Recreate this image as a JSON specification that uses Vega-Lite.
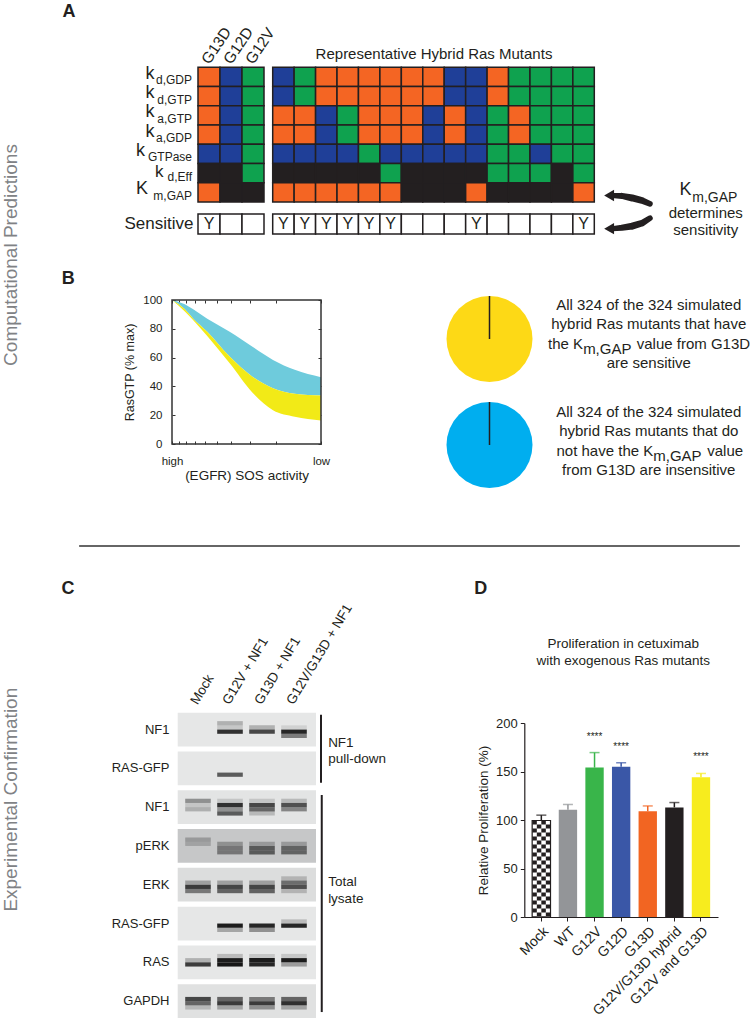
{
"$schema":"https://vega.github.io/schema/vega-lite/v6.json",
"width":750,"height":1020,"padding":0,"background":"white",
"autosize":{"type":"none","contains":"padding"},
"config":{"font":"Liberation Sans","view":{"stroke":null},"axis":{"disable":true,"grid":false},"text":{"color":"#231f20"}},
"datasets":{
"one":[{"figure":"annotation"}],
"cells":[
{"m":"G13D","p":"kdGDP","s":"O"},{"m":"G13D","p":"kdGTP","s":"O"},{"m":"G13D","p":"kaGTP","s":"O"},{"m":"G13D","p":"kaGDP","s":"O"},{"m":"G13D","p":"kGTPase","s":"B"},{"m":"G13D","p":"kdEff","s":"K"},{"m":"G13D","p":"KmGAP","s":"O"},
{"m":"G12D","p":"kdGDP","s":"B"},{"m":"G12D","p":"kdGTP","s":"B"},{"m":"G12D","p":"kaGTP","s":"B"},{"m":"G12D","p":"kaGDP","s":"B"},{"m":"G12D","p":"kGTPase","s":"B"},{"m":"G12D","p":"kdEff","s":"K"},{"m":"G12D","p":"KmGAP","s":"K"},
{"m":"G12V","p":"kdGDP","s":"G"},{"m":"G12V","p":"kdGTP","s":"G"},{"m":"G12V","p":"kaGTP","s":"G"},{"m":"G12V","p":"kaGDP","s":"G"},{"m":"G12V","p":"kGTPase","s":"G"},{"m":"G12V","p":"kdEff","s":"G"},{"m":"G12V","p":"KmGAP","s":"K"}
],
"hybrids":[
{"m":"H1","p":"kdGDP","s":"B"},{"m":"H1","p":"kdGTP","s":"B"},{"m":"H1","p":"kaGTP","s":"O"},{"m":"H1","p":"kaGDP","s":"O"},{"m":"H1","p":"kGTPase","s":"B"},{"m":"H1","p":"kdEff","s":"K"},{"m":"H1","p":"KmGAP","s":"O"},
{"m":"H2","p":"kdGDP","s":"G"},{"m":"H2","p":"kdGTP","s":"G"},{"m":"H2","p":"kaGTP","s":"O"},{"m":"H2","p":"kaGDP","s":"O"},{"m":"H2","p":"kGTPase","s":"B"},{"m":"H2","p":"kdEff","s":"K"},{"m":"H2","p":"KmGAP","s":"O"},
{"m":"H3","p":"kdGDP","s":"O"},{"m":"H3","p":"kdGTP","s":"O"},{"m":"H3","p":"kaGTP","s":"B"},{"m":"H3","p":"kaGDP","s":"B"},{"m":"H3","p":"kGTPase","s":"B"},{"m":"H3","p":"kdEff","s":"K"},{"m":"H3","p":"KmGAP","s":"O"},
{"m":"H4","p":"kdGDP","s":"O"},{"m":"H4","p":"kdGTP","s":"O"},{"m":"H4","p":"kaGTP","s":"G"},{"m":"H4","p":"kaGDP","s":"G"},{"m":"H4","p":"kGTPase","s":"B"},{"m":"H4","p":"kdEff","s":"K"},{"m":"H4","p":"KmGAP","s":"O"},
{"m":"H5","p":"kdGDP","s":"O"},{"m":"H5","p":"kdGTP","s":"O"},{"m":"H5","p":"kaGTP","s":"O"},{"m":"H5","p":"kaGDP","s":"O"},{"m":"H5","p":"kGTPase","s":"G"},{"m":"H5","p":"kdEff","s":"K"},{"m":"H5","p":"KmGAP","s":"O"},
{"m":"H6","p":"kdGDP","s":"O"},{"m":"H6","p":"kdGTP","s":"O"},{"m":"H6","p":"kaGTP","s":"O"},{"m":"H6","p":"kaGDP","s":"O"},{"m":"H6","p":"kGTPase","s":"B"},{"m":"H6","p":"kdEff","s":"G"},{"m":"H6","p":"KmGAP","s":"O"},
{"m":"H7","p":"kdGDP","s":"O"},{"m":"H7","p":"kdGTP","s":"O"},{"m":"H7","p":"kaGTP","s":"O"},{"m":"H7","p":"kaGDP","s":"O"},{"m":"H7","p":"kGTPase","s":"B"},{"m":"H7","p":"kdEff","s":"K"},{"m":"H7","p":"KmGAP","s":"K"},
{"m":"H8","p":"kdGDP","s":"O"},{"m":"H8","p":"kdGTP","s":"O"},{"m":"H8","p":"kaGTP","s":"B"},{"m":"H8","p":"kaGDP","s":"B"},{"m":"H8","p":"kGTPase","s":"B"},{"m":"H8","p":"kdEff","s":"K"},{"m":"H8","p":"KmGAP","s":"K"},
{"m":"H9","p":"kdGDP","s":"B"},{"m":"H9","p":"kdGTP","s":"B"},{"m":"H9","p":"kaGTP","s":"O"},{"m":"H9","p":"kaGDP","s":"O"},{"m":"H9","p":"kGTPase","s":"B"},{"m":"H9","p":"kdEff","s":"K"},{"m":"H9","p":"KmGAP","s":"K"},
{"m":"H10","p":"kdGDP","s":"B"},{"m":"H10","p":"kdGTP","s":"B"},{"m":"H10","p":"kaGTP","s":"B"},{"m":"H10","p":"kaGDP","s":"B"},{"m":"H10","p":"kGTPase","s":"B"},{"m":"H10","p":"kdEff","s":"K"},{"m":"H10","p":"KmGAP","s":"O"},
{"m":"H11","p":"kdGDP","s":"O"},{"m":"H11","p":"kdGTP","s":"O"},{"m":"H11","p":"kaGTP","s":"G"},{"m":"H11","p":"kaGDP","s":"G"},{"m":"H11","p":"kGTPase","s":"G"},{"m":"H11","p":"kdEff","s":"G"},{"m":"H11","p":"KmGAP","s":"K"},
{"m":"H12","p":"kdGDP","s":"G"},{"m":"H12","p":"kdGTP","s":"G"},{"m":"H12","p":"kaGTP","s":"O"},{"m":"H12","p":"kaGDP","s":"O"},{"m":"H12","p":"kGTPase","s":"G"},{"m":"H12","p":"kdEff","s":"G"},{"m":"H12","p":"KmGAP","s":"K"},
{"m":"H13","p":"kdGDP","s":"G"},{"m":"H13","p":"kdGTP","s":"G"},{"m":"H13","p":"kaGTP","s":"G"},{"m":"H13","p":"kaGDP","s":"G"},{"m":"H13","p":"kGTPase","s":"B"},{"m":"H13","p":"kdEff","s":"G"},{"m":"H13","p":"KmGAP","s":"K"},
{"m":"H14","p":"kdGDP","s":"G"},{"m":"H14","p":"kdGTP","s":"G"},{"m":"H14","p":"kaGTP","s":"G"},{"m":"H14","p":"kaGDP","s":"G"},{"m":"H14","p":"kGTPase","s":"G"},{"m":"H14","p":"kdEff","s":"K"},{"m":"H14","p":"KmGAP","s":"K"},
{"m":"H15","p":"kdGDP","s":"G"},{"m":"H15","p":"kdGTP","s":"G"},{"m":"H15","p":"kaGTP","s":"G"},{"m":"H15","p":"kaGDP","s":"G"},{"m":"H15","p":"kGTPase","s":"G"},{"m":"H15","p":"kdEff","s":"G"},{"m":"H15","p":"KmGAP","s":"O"}
],
"params":[
{"p":"kdGDP","letter":"k","sub":"d,GDP","w":"a"},{"p":"kdGTP","letter":"k","sub":"d,GTP","w":"a"},{"p":"kaGTP","letter":"k","sub":"a,GTP","w":"a"},{"p":"kaGDP","letter":"k","sub":"a,GDP","w":"a"},{"p":"kGTPase","letter":"k","sub":"GTPase","w":"b"},{"p":"kdEff","letter":"k","sub":"d,Eff","w":"c"},{"p":"KmGAP","letter":"K","sub":"m,GAP","w":"b"}
],
"sens":[
{"m":"G13D","r":"Sensitive","y":"Y"},{"m":"G12D","r":"Sensitive","y":""},{"m":"G12V","r":"Sensitive","y":""}
],
"sensH":[
{"m":"H1","r":"Sensitive","y":"Y"},{"m":"H2","r":"Sensitive","y":"Y"},{"m":"H3","r":"Sensitive","y":"Y"},{"m":"H4","r":"Sensitive","y":"Y"},{"m":"H5","r":"Sensitive","y":"Y"},{"m":"H6","r":"Sensitive","y":"Y"},{"m":"H7","r":"Sensitive","y":""},{"m":"H8","r":"Sensitive","y":""},{"m":"H9","r":"Sensitive","y":""},{"m":"H10","r":"Sensitive","y":"Y"},{"m":"H11","r":"Sensitive","y":""},{"m":"H12","r":"Sensitive","y":""},{"m":"H13","r":"Sensitive","y":""},{"m":"H14","r":"Sensitive","y":""},{"m":"H15","r":"Sensitive","y":"Y"}
],
"arrows":[
{"a":"up","u":19,"v":13,"w":5,"o":1},{"a":"up","u":40,"v":14,"w":6,"o":2},{"a":"up","u":62,"v":19,"w":7,"o":3},{"a":"up","u":83,"v":25,"w":6.5,"o":4},{"a":"up","u":100,"v":33,"w":5.5,"o":5},
{"a":"down","u":19,"v":92,"w":5,"o":1},{"a":"down","u":40,"v":90,"w":6,"o":2},{"a":"down","u":62,"v":86,"w":7,"o":3},{"a":"down","u":83,"v":79,"w":6.5,"o":4},{"a":"down","u":100,"v":67,"w":5.5,"o":5}
],
"heads":[{"a":"up","u":13,"v":13},{"a":"down","u":13,"v":92}],
"curves":[
{"sos":10,"t":100,"m":100,"b":100},{"sos":8.2,"t":97,"m":93.5,"b":92},{"sos":7.2,"t":93.5,"m":87,"b":86},{"sos":5.8,"t":87,"m":78,"b":75},{"sos":4.1,"t":78,"m":60.7,"b":56},{"sos":2.9,"t":67.7,"m":46.9,"b":36},{"sos":2.1,"t":58.4,"m":38.8,"b":23.5},{"sos":1.5,"t":51.5,"m":34.9,"b":19},{"sos":1,"t":46.4,"m":33.7,"b":16.4}
],
"blots":[{"b":"NF1|a"},{"b":"RAS-GFP|a"},{"b":"NF1|b"},{"b":"pERK"},{"b":"ERK"},{"b":"RAS-GFP|b"},{"b":"RAS"},{"b":"GAPDH"}],
"bands":[
{"b":"NF1|a","l":"G12V + NF1","s":2,"v":0.25},{"b":"NF1|a","l":"G12V + NF1","s":3,"v":0.15},{"b":"NF1|a","l":"G12V + NF1","s":4,"v":0.85},
{"b":"NF1|a","l":"G13D + NF1","s":3,"v":0.25},{"b":"NF1|a","l":"G13D + NF1","s":4,"v":0.75},
{"b":"NF1|a","l":"G12V/G13D + NF1","s":3,"v":0.1},{"b":"NF1|a","l":"G12V/G13D + NF1","s":4,"v":0.9},{"b":"NF1|a","l":"G12V/G13D + NF1","s":5,"v":0.5},
{"b":"RAS-GFP|a","l":"G12V + NF1","s":5,"v":0.65},
{"b":"NF1|b","l":"Mock","s":2,"v":0.4},{"b":"NF1|b","l":"Mock","s":3,"v":0.15},{"b":"NF1|b","l":"Mock","s":4,"v":0.25},
{"b":"NF1|b","l":"G12V + NF1","s":2,"v":0.15},{"b":"NF1|b","l":"G12V + NF1","s":3,"v":0.85},{"b":"NF1|b","l":"G12V + NF1","s":4,"v":0.4},{"b":"NF1|b","l":"G12V + NF1","s":5,"v":0.65},
{"b":"NF1|b","l":"G13D + NF1","s":2,"v":0.15},{"b":"NF1|b","l":"G13D + NF1","s":3,"v":0.75},{"b":"NF1|b","l":"G13D + NF1","s":4,"v":0.6},{"b":"NF1|b","l":"G13D + NF1","s":5,"v":0.2},
{"b":"NF1|b","l":"G12V/G13D + NF1","s":2,"v":0.2},{"b":"NF1|b","l":"G12V/G13D + NF1","s":3,"v":0.7},{"b":"NF1|b","l":"G12V/G13D + NF1","s":4,"v":0.45},
{"b":"pERK","l":"Mock","s":2,"v":0.25},{"b":"pERK","l":"Mock","s":3,"v":0.2},
{"b":"pERK","l":"G12V + NF1","s":3,"v":0.3},{"b":"pERK","l":"G12V + NF1","s":4,"v":0.45},{"b":"pERK","l":"G12V + NF1","s":5,"v":0.45},
{"b":"pERK","l":"G13D + NF1","s":3,"v":0.25},{"b":"pERK","l":"G13D + NF1","s":4,"v":0.6},{"b":"pERK","l":"G13D + NF1","s":5,"v":0.6},
{"b":"pERK","l":"G12V/G13D + NF1","s":3,"v":0.25},{"b":"pERK","l":"G12V/G13D + NF1","s":4,"v":0.55},{"b":"pERK","l":"G12V/G13D + NF1","s":5,"v":0.55},
{"b":"ERK","l":"Mock","s":3,"v":0.3},{"b":"ERK","l":"Mock","s":4,"v":0.8},{"b":"ERK","l":"Mock","s":5,"v":0.5},
{"b":"ERK","l":"G12V + NF1","s":3,"v":0.3},{"b":"ERK","l":"G12V + NF1","s":4,"v":0.75},{"b":"ERK","l":"G12V + NF1","s":5,"v":0.6},
{"b":"ERK","l":"G13D + NF1","s":3,"v":0.3},{"b":"ERK","l":"G13D + NF1","s":4,"v":0.75},{"b":"ERK","l":"G13D + NF1","s":5,"v":0.6},
{"b":"ERK","l":"G12V/G13D + NF1","s":2,"v":0.2},{"b":"ERK","l":"G12V/G13D + NF1","s":3,"v":0.55},{"b":"ERK","l":"G12V/G13D + NF1","s":4,"v":0.7},{"b":"ERK","l":"G12V/G13D + NF1","s":5,"v":0.2},
{"b":"RAS-GFP|b","l":"G12V + NF1","s":4,"v":0.95},{"b":"RAS-GFP|b","l":"G12V + NF1","s":5,"v":0.3},
{"b":"RAS-GFP|b","l":"G13D + NF1","s":4,"v":0.9},{"b":"RAS-GFP|b","l":"G13D + NF1","s":5,"v":0.4},
{"b":"RAS-GFP|b","l":"G12V/G13D + NF1","s":3,"v":0.2},{"b":"RAS-GFP|b","l":"G12V/G13D + NF1","s":4,"v":0.9},
{"b":"RAS","l":"Mock","s":3,"v":0.25},{"b":"RAS","l":"Mock","s":4,"v":0.8},
{"b":"RAS","l":"G12V + NF1","s":2,"v":0.2},{"b":"RAS","l":"G12V + NF1","s":3,"v":0.95},{"b":"RAS","l":"G12V + NF1","s":4,"v":0.98},
{"b":"RAS","l":"G13D + NF1","s":2,"v":0.15},{"b":"RAS","l":"G13D + NF1","s":3,"v":0.95},{"b":"RAS","l":"G13D + NF1","s":4,"v":0.9},
{"b":"RAS","l":"G12V/G13D + NF1","s":2,"v":0.15},{"b":"RAS","l":"G12V/G13D + NF1","s":3,"v":0.95},{"b":"RAS","l":"G12V/G13D + NF1","s":4,"v":0.35},
{"b":"GAPDH","l":"Mock","s":3,"v":0.75},{"b":"GAPDH","l":"Mock","s":4,"v":0.6},{"b":"GAPDH","l":"Mock","s":5,"v":0.2},
{"b":"GAPDH","l":"G12V + NF1","s":3,"v":0.6},{"b":"GAPDH","l":"G12V + NF1","s":4,"v":0.8},{"b":"GAPDH","l":"G12V + NF1","s":5,"v":0.3},
{"b":"GAPDH","l":"G13D + NF1","s":3,"v":0.5},{"b":"GAPDH","l":"G13D + NF1","s":4,"v":0.8},{"b":"GAPDH","l":"G13D + NF1","s":5,"v":0.4},
{"b":"GAPDH","l":"G12V/G13D + NF1","s":3,"v":0.6},{"b":"GAPDH","l":"G12V/G13D + NF1","s":4,"v":0.85},{"b":"GAPDH","l":"G12V/G13D + NF1","s":5,"v":0.3}
],
"prolif":[
{"g":"Mock","v":99.5,"u":105,"sig":""},{"g":"WT","v":110.5,"u":116,"sig":""},{"g":"G12V","v":154,"u":169.5,"sig":"****"},{"g":"G12D","v":155,"u":159,"sig":"****"},{"g":"G13D","v":109,"u":114.5,"sig":""},{"g":"G12V/G13D hybrid","v":113,"u":118,"sig":""},{"g":"G12V and G13D","v":144,"u":148,"sig":"****"}
],
"cap1":[{"n":1,"t":"All 324 of the 324  simulated"},{"n":2,"t":"hybrid Ras mutants that have"},{"n":4,"t":"are sensitive"}],
"cap2":[{"n":1,"t":"All 324 of the 324 simulated"},{"n":2,"t":"hybrid Ras mutants that do"},{"n":4,"t":"from G13D are insensitive"}]
},
"resolve":{"scale":{"x":"independent","y":"independent","color":"independent","opacity":"independent","theta":"independent","size":"independent"},"axis":{"x":"independent","y":"independent"}},
"layer":[
{"data":{"name":"cells"},"mark":{"type":"rect","stroke":"#231f20","strokeWidth":1.5},
  "encoding":{"x":{"field":"m","type":"nominal","sort":null,"scale":{"type":"band","domain":["G13D","G12D","G12V"],"range":[198,264],"padding":0},"axis":{"disable":false,"orient":"top","offset":-64,"title":null,"labelAngle":-56,"labelAlign":"left","labelBaseline":"middle","labelFontSize":15.5,"labelColor":"#231f20","domain":false,"ticks":false,"labelPadding":2,"labelOffset":-4}},
  "y":{"field":"p","type":"nominal","scale":{"type":"band","domain":["kdGDP","kdGTP","kaGTP","kaGDP","kGTPase","kdEff","KmGAP"],"range":[67.3,202],"padding":0}},
  "color":{"field":"s","type":"nominal","legend":null,"scale":{"domain":["O","B","G","K"],"range":["#f46523","#1f3f98","#0fa24f","#231f20"]}}}},
{"data":{"name":"params"},"layer":[
 {"mark":{"type":"text","align":"right","dx":-17,"dy":3.5,"fontSize":12},
  "encoding":{"x":{"datum":"G13D","type":"nominal","scale":{"type":"band","domain":["G13D","G12D","G12V"],"range":[198,264],"padding":0}},"y":{"field":"p","type":"nominal","scale":{"type":"band","domain":["kdGDP","kdGTP","kaGTP","kaGDP","kGTPase","kdEff","KmGAP"],"range":[67.3,202],"padding":0}},"text":{"field":"sub"}}},
 {"transform":[{"filter":"datum.w=='a'"}],"mark":{"type":"text","align":"left","dx":-63.5,"dy":-3,"fontSize":18},
  "encoding":{"x":{"datum":"G13D","type":"nominal"},"y":{"field":"p","type":"nominal"},"text":{"field":"letter"}}},
 {"transform":[{"filter":"datum.w=='b'"}],"mark":{"type":"text","align":"left","dx":-73,"dy":-3,"fontSize":18},
  "encoding":{"x":{"datum":"G13D","type":"nominal"},"y":{"field":"p","type":"nominal"},"text":{"field":"letter"}}},
 {"transform":[{"filter":"datum.w=='c'"}],"mark":{"type":"text","align":"left","dx":-54,"dy":-1.5,"fontSize":17},
  "encoding":{"x":{"datum":"G13D","type":"nominal"},"y":{"field":"p","type":"nominal"},"text":{"field":"letter"}}}
]},
{"data":{"name":"hybrids"},"mark":{"type":"rect","stroke":"#231f20","strokeWidth":1.5},
 "encoding":{"x":{"field":"m","type":"nominal","sort":null,"scale":{"type":"band","domain":["H1","H2","H3","H4","H5","H6","H7","H8","H9","H10","H11","H12","H13","H14","H15"],"range":[272.7,594.3],"padding":0},"axis":{"disable":false,"orient":"top","offset":-64,"title":"Representative Hybrid Ras Mutants","titleFontSize":15,"titleFontWeight":"normal","titleColor":"#231f20","titlePadding":3,"labels":false,"ticks":false,"domain":false}},
 "y":{"field":"p","type":"nominal","scale":{"type":"band","domain":["kdGDP","kdGTP","kaGTP","kaGDP","kGTPase","kdEff","KmGAP"],"range":[67.3,202],"padding":0}},
 "color":{"field":"s","type":"nominal","legend":null,"scale":{"domain":["O","B","G","K"],"range":["#f46523","#1f3f98","#0fa24f","#231f20"]}}}},
{"data":{"name":"sens"},"mark":{"type":"rect","fill":"white","stroke":"#231f20","strokeWidth":1.5},
  "encoding":{"x":{"field":"m","type":"nominal","sort":null,"scale":{"type":"band","domain":["G13D","G12D","G12V"],"range":[198,264],"padding":0}},
  "y":{"field":"r","type":"nominal","scale":{"type":"band","domain":["Sensitive"],"range":[214,234],"padding":0},"axis":{"disable":false,"orient":"left","offset":-193,"title":null,"domain":false,"ticks":false,"labelFontSize":17,"labelColor":"#231f20","labelPadding":0}}}},
{"data":{"name":"sens"},"mark":{"type":"text","fontSize":16},"encoding":{"x":{"field":"m","type":"nominal","sort":null,"scale":{"type":"band","domain":["G13D","G12D","G12V"],"range":[198,264],"padding":0}},"y":{"field":"r","type":"nominal","scale":{"type":"band","domain":["Sensitive"],"range":[214,234],"padding":0}},"text":{"field":"y"}}},
{"data":{"name":"sensH"},"layer":[
 {"mark":{"type":"rect","fill":"white","stroke":"#231f20","strokeWidth":1.5},
  "encoding":{"x":{"field":"m","type":"nominal","sort":null,"scale":{"type":"band","domain":["H1","H2","H3","H4","H5","H6","H7","H8","H9","H10","H11","H12","H13","H14","H15"],"range":[272.7,594.3],"padding":0}},
  "y":{"field":"r","type":"nominal","scale":{"type":"band","domain":["Sensitive"],"range":[214,234],"padding":0}}}},
 {"mark":{"type":"text","fontSize":16},"encoding":{"x":{"field":"m","type":"nominal","sort":null},"y":{"field":"r","type":"nominal"},"text":{"field":"y"}}}
]},
{"layer":[
 {"data":{"name":"arrows"},"mark":{"type":"trail","color":"#231f20"},
  "encoding":{"x":{"field":"u","type":"quantitative","scale":{"domain":[0,100],"range":[603,650]}},"y":{"field":"v","type":"quantitative","scale":{"domain":[0,100],"range":[190,232]}},"detail":{"field":"a"},"order":{"field":"o"},"size":{"field":"w","type":"quantitative","scale":null}}},
 {"data":{"name":"heads"},"mark":{"type":"point","shape":"triangle-left","filled":true,"color":"#231f20","opacity":1,"size":130},
  "encoding":{"x":{"field":"u","type":"quantitative"},"y":{"field":"v","type":"quantitative"}}}
]},
{"data":{"name":"curves"},"mark":{"type":"area","color":"#6ecbdc","interpolate":"monotone"},
  "encoding":{"x":{"field":"sos","type":"quantitative","scale":{"type":"log","domain":[10,1],"range":[172,321]},
   "axis":{"disable":false,"orient":"bottom","offset":-576,"values":[1,2,3,4,5,6,7,8,9,10],"labelExpr":"datum.value==10?'high':datum.value==1?'low':''","title":"(EGFR) SOS activity","titleFontSize":13.5,"titleFontWeight":"normal","titleColor":"#231f20","titlePadding":2,"labelFontSize":11.5,"labelColor":"#231f20","tickSize":-3,"labelPadding":14,"tickColor":"#333","domain":false,"labelOverlap":false,"labelBound":false,"labelFlush":false}},
  "y":{"field":"t","type":"quantitative","scale":{"domain":[0,100],"range":[444,300]},
   "axis":{"disable":false,"orient":"left","offset":-172,"values":[0,20,40,60,80,100],"title":"RasGTP (% max)","titleFontSize":12.5,"titleFontWeight":"normal","titleColor":"#231f20","titlePadding":6,"labelFontSize":11.5,"labelColor":"#231f20","tickSize":-3,"labelPadding":13,"tickColor":"#333","domain":false}},
  "y2":{"field":"m"}}},
{"data":{"name":"curves"},"mark":{"type":"area","color":"#f2ea17","interpolate":"monotone"},
  "encoding":{"x":{"field":"sos","type":"quantitative","scale":{"type":"log","domain":[10,1],"range":[172,321]}},"y":{"field":"m","type":"quantitative","scale":{"domain":[0,100],"range":[444,300]}},"y2":{"field":"b"}}},
{"data":{"name":"one"},"mark":{"type":"rect","fillOpacity":0,"fill":"white","stroke":"#333","strokeWidth":1.5},
 "encoding":{"x":{"datum":10,"type":"quantitative","scale":{"type":"log","domain":[10,1],"range":[172,321]},"axis":{"disable":false,"orient":"top","offset":-300,"values":[1,2,3,4,5,6,7,8,9,10],"labels":false,"title":null,"tickSize":-3,"tickColor":"#333","domain":false}},"x2":{"datum":1},
 "y":{"datum":0,"type":"quantitative","scale":{"domain":[0,100],"range":[444,300]},"axis":{"disable":false,"orient":"right","offset":-429,"values":[0,20,40,60,80,100],"labels":false,"title":null,"tickSize":-3,"tickColor":"#333","domain":false}},"y2":{"datum":100}}},
{"data":{"values":[{"result":"sensitive","n":324}]},"layer":[
 {"mark":{"type":"arc","outerRadius":43,"innerRadius":0,"fill":"#fdd916"},
  "encoding":{"theta":{"field":"n","type":"quantitative"},"x":{"datum":0,"type":"quantitative","scale":{"domain":[-1,1],"range":[446.5,532.5]}},"y":{"datum":0,"type":"quantitative","scale":{"domain":[-1,1],"range":[382,296]}}}},
 {"mark":{"type":"rule","color":"#231f20","strokeWidth":1.5},"encoding":{"x":{"datum":0,"type":"quantitative"},"y":{"datum":0,"type":"quantitative"},"y2":{"datum":1}}}
]},
{"data":{"values":[{"result":"insensitive","n":324}]},"layer":[
 {"mark":{"type":"arc","outerRadius":43,"innerRadius":0,"fill":"#00aeef"},
  "encoding":{"theta":{"field":"n","type":"quantitative"},"x":{"datum":0,"type":"quantitative","scale":{"domain":[-1,1],"range":[446.5,532.5]}},"y":{"datum":0,"type":"quantitative","scale":{"domain":[-1,1],"range":[488,402]}}}},
 {"mark":{"type":"rule","color":"#231f20","strokeWidth":1.5},"encoding":{"x":{"datum":0,"type":"quantitative"},"y":{"datum":0,"type":"quantitative"},"y2":{"datum":1}}}
]},
{"data":{"name":"cap1"},"mark":{"type":"text","fontSize":15},"encoding":{"x":{"datum":86.5,"type":"quantitative","scale":{"domain":[0,100],"range":[0,750]}},"y":{"field":"n","type":"ordinal","scale":{"type":"point","domain":[1,2,3,4],"range":[305,363.3],"padding":0}},"text":{"field":"t"}}},
{"data":{"name":"cap2"},"mark":{"type":"text","fontSize":15},"encoding":{"x":{"datum":86.5,"type":"quantitative","scale":{"domain":[0,100],"range":[0,750]}},"y":{"field":"n","type":"ordinal","scale":{"type":"point","domain":[1,2,3,4],"range":[412,470],"padding":0}},"text":{"field":"t"}}},
{"data":{"name":"blots"},"mark":{"type":"rect"},
  "encoding":{"x":{"datum":0,"type":"quantitative","scale":{"domain":[0,1],"range":[177.7,316]}},"x2":{"datum":1},
  "y":{"field":"b","type":"nominal","sort":null,"scale":{"type":"band","domain":["NF1|a","RAS-GFP|a","NF1|b","pERK","ERK","RAS-GFP|b","RAS","GAPDH"],"range":[712.7,1018],"paddingInner":0.13,"paddingOuter":0},
   "axis":{"disable":false,"orient":"left","offset":-170,"title":null,"domain":false,"ticks":false,"labelPadding":1,"labelFontSize":13,"labelColor":"#231f20","labelExpr":"split(datum.label,'|')[0]"}},
  "color":{"field":"b","type":"nominal","legend":null,"scale":{"domain":["NF1|a","RAS-GFP|a","NF1|b","pERK","ERK","RAS-GFP|b","RAS","GAPDH"],"range":["#e6e7e7","#e6e7e7","#e3e4e4","#c6c7c8","#dcdddd","#e6e7e7","#e6e7e7","#e0e1e1"]}}}},
{"data":{"name":"bands"},"mark":{"type":"rect","color":"#111"},
 "encoding":{"x":{"field":"l","type":"nominal","sort":null,"scale":{"type":"band","domain":["Mock","G12V + NF1","G13D + NF1","G12V/G13D + NF1"],"range":[182,310],"paddingInner":0.2,"paddingOuter":0.1},"axis":{"disable":false,"orient":"top","offset":-703,"title":null,"domain":false,"ticks":false,"labelAngle":-59,"labelAlign":"left","labelBaseline":"middle","labelFontSize":13.5,"labelColor":"#231f20","labelPadding":0,"labelOffset":-4}},
 "y":{"field":"b","type":"nominal","sort":null,"scale":{"type":"band","domain":["NF1|a","RAS-GFP|a","NF1|b","pERK","ERK","RAS-GFP|b","RAS","GAPDH"],"range":[712.7,1018],"paddingInner":0.13,"paddingOuter":0}},
 "yOffset":{"field":"s","type":"ordinal","scale":{"domain":[0,1,2,3,4,5,6,7],"padding":0}},
 "opacity":{"field":"v","type":"quantitative","legend":null,"scale":{"domain":[0,1],"range":[0,1]}}}},
{"data":{"name":"prolif"},"mark":{"type":"bar"},"encoding":{"x":{"field":"g","type":"nominal","sort":null,"scale":{"type":"band","domain":["Mock","WT","G12V","G12D","G13D","G12V/G13D hybrid","G12V and G13D"],"range":[524.3,718],"paddingInner":0.31,"paddingOuter":0.295},"axis":{"disable":false,"orient":"bottom","offset":-103,"title":null,"labelAngle":-45,"labelFontSize":14,"labelColor":"#231f20","tickColor":"#231f20","domainColor":"#231f20","domainWidth":1.2,"tickSize":4,"labelPadding":3}},
  "y":{"field":"v","type":"quantitative","stack":null,"scale":{"domain":[0,200],"range":[917,723]},"axis":{"disable":false,"orient":"left","offset":-524.3,"values":[0,50,100,150,200],"title":"Relative Proliferation (%)","titleFontSize":13.5,"titleFontWeight":"normal","titleColor":"#231f20","titlePadding":5,"labelFontSize":13,"labelColor":"#231f20","tickColor":"#231f20","domainColor":"#231f20","domainWidth":1.2,"tickSize":4,"labelPadding":3}},
  "color":{"field":"g","type":"nominal","legend":null,"scale":{"domain":["Mock","WT","G12V","G12D","G13D","G12V/G13D hybrid","G12V and G13D"],"range":["#231f20","#939598","#39b54a","#3a57a7","#f26522","#231f20","#f7ec1e"]}}}},
{"data":{"name":"prolif"},"layer":[
 {"mark":{"type":"rule","strokeWidth":1.5},"encoding":{"x":{"field":"g","type":"nominal","sort":null,"scale":{"type":"band","domain":["Mock","WT","G12V","G12D","G13D","G12V/G13D hybrid","G12V and G13D"],"range":[524.3,718],"paddingInner":0.31,"paddingOuter":0.295}},"y":{"field":"v","type":"quantitative","stack":null,"scale":{"domain":[0,200],"range":[917,723]}},"y2":{"field":"u"},"color":{"field":"g","type":"nominal","legend":null,"scale":{"domain":["Mock","WT","G12V","G12D","G13D","G12V/G13D hybrid","G12V and G13D"],"range":["#231f20","#939598","#39b54a","#3a57a7","#f26522","#231f20","#f7ec1e"]}}}},
 {"mark":{"type":"tick","size":10,"thickness":1.5},"encoding":{"x":{"field":"g","type":"nominal","sort":null},"y":{"field":"u","type":"quantitative","stack":null},"color":{"field":"g","type":"nominal","legend":null}}},
 {"transform":[{"filter":"datum.g=='Mock'"}],"mark":{"type":"bar","fill":"white","stroke":"#231f20","strokeWidth":1.2},"encoding":{"x":{"field":"g","type":"nominal","sort":null},"y":{"field":"v","type":"quantitative"}}},
 {"transform":[{"filter":"datum.g=='Mock'"}],"mark":{"type":"rule","color":"#231f20","strokeWidth":4.5,"strokeDash":[4,4],"xOffset":-6.75},"encoding":{"x":{"field":"g","type":"nominal","sort":null},"y":{"field":"v","type":"quantitative"},"y2":{"datum":0}}},
 {"transform":[{"filter":"datum.g=='Mock'"}],"mark":{"type":"rule","color":"#231f20","strokeWidth":4.5,"strokeDash":[4,4],"strokeDashOffset":4,"xOffset":-2.25},"encoding":{"x":{"field":"g","type":"nominal","sort":null},"y":{"field":"v","type":"quantitative"},"y2":{"datum":0}}},
 {"transform":[{"filter":"datum.g=='Mock'"}],"mark":{"type":"rule","color":"#231f20","strokeWidth":4.5,"strokeDash":[4,4],"xOffset":2.25},"encoding":{"x":{"field":"g","type":"nominal","sort":null},"y":{"field":"v","type":"quantitative"},"y2":{"datum":0}}},
 {"transform":[{"filter":"datum.g=='Mock'"}],"mark":{"type":"rule","color":"#231f20","strokeWidth":4.5,"strokeDash":[4,4],"strokeDashOffset":4,"xOffset":6.75},"encoding":{"x":{"field":"g","type":"nominal","sort":null},"y":{"field":"v","type":"quantitative"},"y2":{"datum":0}}},
 {"transform":[{"filter":"datum.sig!=''"}],"mark":{"type":"text","fontSize":10,"dy":-16},"encoding":{"x":{"field":"g","type":"nominal","sort":null},"y":{"field":"u","type":"quantitative"},"text":{"field":"sig"}}}
]},
{"data":{"name":"one"},"layer":[
 {"mark":{"type":"text","angle":270,"fontSize":19,"color":"#808285"},"encoding":{"x":{"datum":1.4,"type":"quantitative","scale":{"domain":[0,100],"range":[0,750]}},"y":{"datum":25,"type":"quantitative","scale":{"domain":[0,100],"range":[0,1020]}},"text":{"value":"Computational Predictions"}}},
 {"mark":{"type":"text","angle":270,"fontSize":19,"color":"#808285"},"encoding":{"x":{"datum":1.4,"type":"quantitative"},"y":{"datum":78.4,"type":"quantitative"},"text":{"value":"Experimental Confirmation"}}},
 {"mark":{"type":"text","fontSize":18,"fontWeight":"bold"},"encoding":{"x":{"datum":9.2,"type":"quantitative"},"y":{"datum":1.15,"type":"quantitative"},"text":{"value":"A"}}},
 {"mark":{"type":"text","fontSize":18,"fontWeight":"bold"},"encoding":{"x":{"datum":9.1,"type":"quantitative"},"y":{"datum":27.35,"type":"quantitative"},"text":{"value":"B"}}},
 {"mark":{"type":"text","fontSize":18,"fontWeight":"bold"},"encoding":{"x":{"datum":9.07,"type":"quantitative"},"y":{"datum":57.75,"type":"quantitative"},"text":{"value":"C"}}},
 {"mark":{"type":"text","fontSize":18,"fontWeight":"bold"},"encoding":{"x":{"datum":64.1,"type":"quantitative"},"y":{"datum":57.75,"type":"quantitative"},"text":{"value":"D"}}},
 {"mark":{"type":"rule","color":"#666","strokeWidth":2},"encoding":{"x":{"datum":10.55,"type":"quantitative"},"x2":{"datum":98.65},"y":{"datum":53.53,"type":"quantitative"}}},
 {"mark":{"type":"text","fontSize":18,"align":"left"},"encoding":{"x":{"datum":90.6,"type":"quantitative"},"y":{"datum":18.6,"type":"quantitative"},"text":{"value":"K"}}},
 {"mark":{"type":"text","fontSize":14,"align":"left"},"encoding":{"x":{"datum":92.3,"type":"quantitative"},"y":{"datum":19.4,"type":"quantitative"},"text":{"value":"m,GAP"}}},
 {"mark":{"type":"text","fontSize":15},"encoding":{"x":{"datum":94.1,"type":"quantitative"},"y":{"datum":20.9,"type":"quantitative"},"text":{"value":"determines"}}},
 {"mark":{"type":"text","fontSize":15},"encoding":{"x":{"datum":94.1,"type":"quantitative"},"y":{"datum":22.55,"type":"quantitative"},"text":{"value":"sensitivity"}}},
 {"mark":{"type":"text","fontSize":15,"align":"right"},"encoding":{"x":{"datum":77.75,"type":"quantitative"},"y":{"datum":33.7,"type":"quantitative"},"text":{"value":"the K"}}},
 {"mark":{"type":"text","fontSize":15,"align":"left"},"encoding":{"x":{"datum":77.75,"type":"quantitative"},"y":{"datum":34.2,"type":"quantitative"},"text":{"value":"m,GAP"}}},
 {"mark":{"type":"text","fontSize":15,"align":"left"},"encoding":{"x":{"datum":84.9,"type":"quantitative"},"y":{"datum":33.7,"type":"quantitative"},"text":{"value":"value from G13D"}}},
 {"mark":{"type":"text","fontSize":15,"align":"right"},"encoding":{"x":{"datum":87.1,"type":"quantitative"},"y":{"datum":44.2,"type":"quantitative"},"text":{"value":"not have the K"}}},
 {"mark":{"type":"text","fontSize":15,"align":"left"},"encoding":{"x":{"datum":87.1,"type":"quantitative"},"y":{"datum":44.7,"type":"quantitative"},"text":{"value":"m,GAP"}}},
 {"mark":{"type":"text","fontSize":15,"align":"left"},"encoding":{"x":{"datum":94.3,"type":"quantitative"},"y":{"datum":44.2,"type":"quantitative"},"text":{"value":"value"}}},
 {"mark":{"type":"rule","color":"#231f20","strokeWidth":2},"encoding":{"x":{"datum":42.8,"type":"quantitative"},"y":{"datum":70.07,"type":"quantitative"},"y2":{"datum":76.73}}},
 {"mark":{"type":"rule","color":"#231f20","strokeWidth":2},"encoding":{"x":{"datum":42.9,"type":"quantitative"},"y":{"datum":77.94,"type":"quantitative"},"y2":{"datum":99.22}}},
 {"mark":{"type":"text","fontSize":13.5,"align":"left"},"encoding":{"x":{"datum":43.75,"type":"quantitative"},"y":{"datum":72.8,"type":"quantitative"},"text":{"value":"NF1"}}},
 {"mark":{"type":"text","fontSize":13.5,"align":"left"},"encoding":{"x":{"datum":43.75,"type":"quantitative"},"y":{"datum":74.4,"type":"quantitative"},"text":{"value":"pull-down"}}},
 {"mark":{"type":"text","fontSize":13.5,"align":"left"},"encoding":{"x":{"datum":43.75,"type":"quantitative"},"y":{"datum":86.5,"type":"quantitative"},"text":{"value":"Total"}}},
 {"mark":{"type":"text","fontSize":13.5,"align":"left"},"encoding":{"x":{"datum":43.75,"type":"quantitative"},"y":{"datum":88.1,"type":"quantitative"},"text":{"value":"lysate"}}},
 {"mark":{"type":"text","fontSize":13.5},"encoding":{"x":{"datum":83.1,"type":"quantitative"},"y":{"datum":63.15,"type":"quantitative"},"text":{"value":"Proliferation in cetuximab"}}},
 {"mark":{"type":"text","fontSize":13.5},"encoding":{"x":{"datum":83.1,"type":"quantitative"},"y":{"datum":64.8,"type":"quantitative"},"text":{"value":"with exogenous Ras mutants"}}}
]}
]
}
